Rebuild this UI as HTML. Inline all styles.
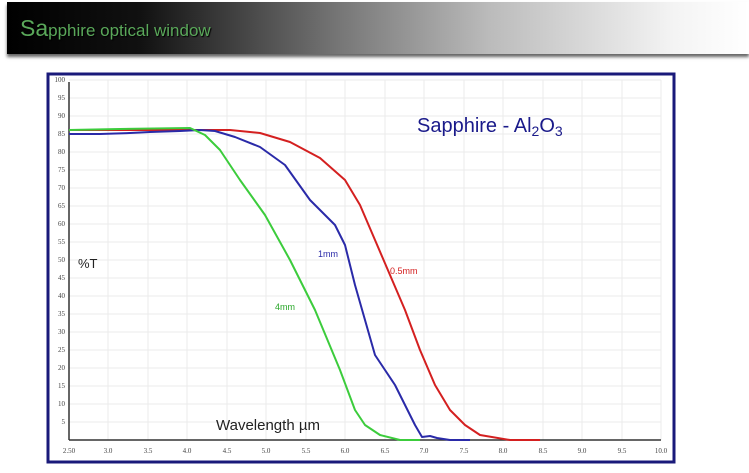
<!DOCTYPE html>
<html><head><style>
body{margin:0;width:749px;height:473px;background:#fff;overflow:hidden;font-family:"Liberation Sans",sans-serif}
#hdr{position:absolute;left:7px;top:2px;width:742px;height:52px;background:linear-gradient(90deg,#000 0%,#111 18%,#777 45%,#bbb 65%,#f4f4f4 90%,#fff 100%);box-shadow:0 3px 3px #666}
#hdr span{position:absolute;left:13px;top:13px;font-size:17px;color:#5aa85a;text-shadow:1px 1px 1px #000}
</style></head><body>
<div id="hdr"><span><span style="position:static;font-size:23px">Sa</span>pphire optical window</span></div>
<svg width="749" height="473" style="position:absolute;left:0;top:0">
<rect x="48" y="74" width="626" height="388" fill="#fff" stroke="#1a1a7a" stroke-width="3"/>
<g stroke="#ebebeb" stroke-width="1">
<line x1="108" y1="80" x2="108" y2="440"/><line x1="148" y1="80" x2="148" y2="440"/><line x1="187" y1="80" x2="187" y2="440"/><line x1="227" y1="80" x2="227" y2="440"/><line x1="266" y1="80" x2="266" y2="440"/><line x1="306" y1="80" x2="306" y2="440"/><line x1="345" y1="80" x2="345" y2="440"/><line x1="385" y1="80" x2="385" y2="440"/><line x1="424" y1="80" x2="424" y2="440"/><line x1="464" y1="80" x2="464" y2="440"/><line x1="503" y1="80" x2="503" y2="440"/><line x1="543" y1="80" x2="543" y2="440"/><line x1="582" y1="80" x2="582" y2="440"/><line x1="622" y1="80" x2="622" y2="440"/><line x1="661" y1="80" x2="661" y2="440"/>
<line x1="69" y1="422" x2="661" y2="422"/><line x1="69" y1="404" x2="661" y2="404"/><line x1="69" y1="386" x2="661" y2="386"/><line x1="69" y1="368" x2="661" y2="368"/><line x1="69" y1="350" x2="661" y2="350"/><line x1="69" y1="332" x2="661" y2="332"/><line x1="69" y1="314" x2="661" y2="314"/><line x1="69" y1="296" x2="661" y2="296"/><line x1="69" y1="278" x2="661" y2="278"/><line x1="69" y1="260" x2="661" y2="260"/><line x1="69" y1="242" x2="661" y2="242"/><line x1="69" y1="224" x2="661" y2="224"/><line x1="69" y1="206" x2="661" y2="206"/><line x1="69" y1="188" x2="661" y2="188"/><line x1="69" y1="170" x2="661" y2="170"/><line x1="69" y1="152" x2="661" y2="152"/><line x1="69" y1="134" x2="661" y2="134"/><line x1="69" y1="116" x2="661" y2="116"/><line x1="69" y1="98" x2="661" y2="98"/><line x1="69" y1="80" x2="661" y2="80"/>
</g>
<line x1="69" y1="82" x2="69" y2="440" stroke="#333" stroke-width="1.5"/>
<line x1="69" y1="440" x2="661" y2="440" stroke="#333" stroke-width="1.5"/>
<g font-family="Liberation Serif,serif" font-size="7" fill="#444" text-anchor="end">
<text x="65" y="424">5</text><text x="65" y="406">10</text><text x="65" y="388">15</text><text x="65" y="370">20</text><text x="65" y="352">25</text><text x="65" y="334">30</text><text x="65" y="316">35</text><text x="65" y="298">40</text><text x="65" y="280">45</text><text x="65" y="262">50</text><text x="65" y="244">55</text><text x="65" y="226">60</text><text x="65" y="208">65</text><text x="65" y="190">70</text><text x="65" y="172">75</text><text x="65" y="154">80</text><text x="65" y="136">85</text><text x="65" y="118">90</text><text x="65" y="100">95</text><text x="65" y="82">100</text>
</g>
<g font-family="Liberation Serif,serif" font-size="7" fill="#444" text-anchor="middle">
<text x="69" y="453">2.50</text><text x="108" y="453">3.0</text><text x="148" y="453">3.5</text><text x="187" y="453">4.0</text><text x="227" y="453">4.5</text><text x="266" y="453">5.0</text><text x="306" y="453">5.5</text><text x="345" y="453">6.0</text><text x="385" y="453">6.5</text><text x="424" y="453">7.0</text><text x="464" y="453">7.5</text><text x="503" y="453">8.0</text><text x="543" y="453">8.5</text><text x="582" y="453">9.0</text><text x="622" y="453">9.5</text><text x="661" y="453">10.0</text>
</g>
<g fill="none" stroke-width="2" stroke-linejoin="round">
<polyline stroke="#d42020" points="69,130 230,130 260,133 290,142 320,158 345,180 360,205 375,240 390,275 405,310 420,350 435,385 450,410 465,425 480,435 510,440 540,440"/>
<polyline stroke="#2a2aa8" points="69,134 100,134 130,133 150,132 180,131 200,130 215,131 235,137 260,147 285,165 310,200 335,225 345,245 355,285 365,320 375,355 385,370 395,385 405,405 415,425 422,437 430,436 437,438 450,440 470,440"/>
<polyline stroke="#3ccc3c" points="69,130 120,129 190,128 205,135 220,150 240,180 265,215 290,260 315,310 340,370 355,410 365,425 380,435 400,440 420,440"/>
</g>
<text x="417" y="132" font-size="20" fill="#1a1a8a">Sapphire - Al<tspan font-size="14" dy="4">2</tspan><tspan dy="-4">O</tspan><tspan font-size="14" dy="4">3</tspan></text>
<text x="318" y="257" font-size="9" fill="#2a2aa8">1mm</text>
<text x="390" y="274" font-size="9" fill="#d42020">0.5mm</text>
<text x="275" y="310" font-size="9" fill="#2aa82a">4mm</text>
<text x="78" y="268" font-size="13" fill="#222">%T</text>
<text x="216" y="430" font-size="15" fill="#222">Wavelength µm</text>
</svg>
</body></html>
